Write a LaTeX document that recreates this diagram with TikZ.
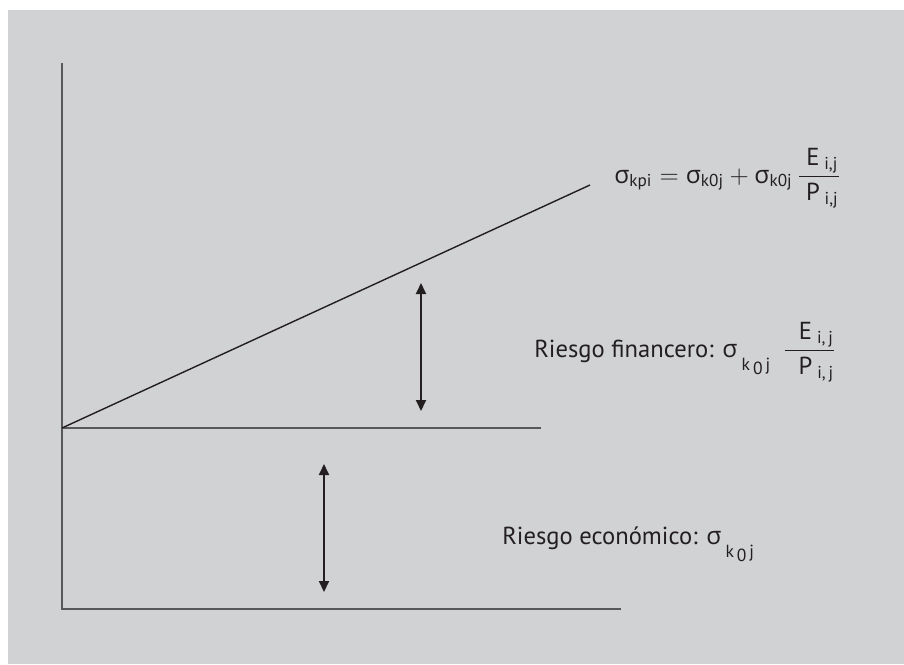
\documentclass[tikz,border=0pt]{standalone}
\usepackage{amsmath}
\usepackage{fontspec}
\setmainfont{PT Sans}
\newfontfamily\grk{Open Sans}
\usetikzlibrary{arrows.meta,positioning}
\definecolor{panelgray}{RGB}{209,210,212}
\definecolor{axisgray}{RGB}{88,88,90}
\definecolor{inkblack}{RGB}{35,31,32}
\newcommand{\sg}[1]{\text{\grk σ}_{\text{#1}}}
\newcommand{\sglow}{{\grk σ}\,\raisebox{-0.55em}{\fontsize{10}{10}\selectfont k\,\raisebox{-0.25em}{0}\,j}}
\begin{document}
\begin{tikzpicture}[
  x=0.02cm,y=-0.02cm,
  axis/.style={axisgray,line width=1.4pt},
  slope/.style={inkblack,line width=0.8pt},
  spread/.style={inkblack,line width=1.1pt,{Triangle[length=0.22cm,width=0.2cm]}-{Triangle[length=0.22cm,width=0.2cm]}},
  lbl/.style={inkblack,font=\fontsize{14}{16}\selectfont,inner sep=0pt}
]
  \useasboundingbox (0,0) rectangle (904,664);
  \fill[panelgray] (8,10) rectangle (904,664);
  % axes
  \coordinate (ytop) at (62,63);
  \coordinate (orig) at (62,428);
  \coordinate (corner) at (62,609);
  \coordinate (xend) at (621,609);
  \coordinate (midend) at (541,428);
  \coordinate (slopeend) at (590,185);
  \draw[axis] (ytop) -- (corner) -- (xend);
  \draw[axis] (orig) -- (midend);
  \draw[slope] (orig) -- (slopeend);
  % spreads
  \coordinate (fintop) at (421,283);
  \coordinate (finbot) at (421,411);
  \coordinate (ecotop) at (324,464);
  \coordinate (ecobot) at (324,592);
  \draw[spread] (fintop) -- (finbot);
  \draw[spread] (ecotop) -- (ecobot);
  % labels
  \node[lbl,anchor=base west] (total) at (614,183)
    {$\sg{kpi} = \sg{k0j} + \sg{k0j}\,\dfrac{\;\text{E}_{\;\text{i,j}}}{\;\text{P}_{\;\text{i,j}}}$};
  \node[lbl,anchor=base west] (fin) at (534,357)
    {Riesgo financero: \sglow\enspace$\dfrac{\;\;\text{E}_{\;\text{i,\,j}}}{\;\;\text{P}_{\;\text{i,\,j}}}$};
  \node[lbl,anchor=base west] (eco) at (502,544)
    {Riesgo económico: \sglow};
\end{tikzpicture}
\end{document}
